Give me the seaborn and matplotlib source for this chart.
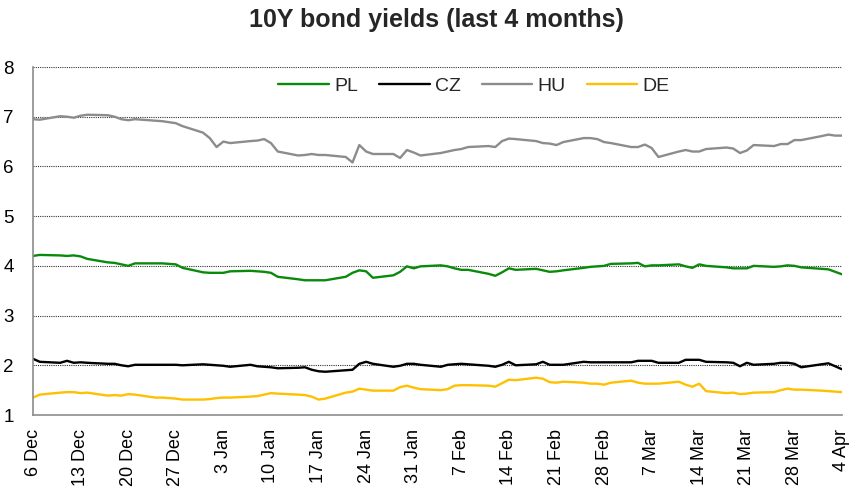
import matplotlib
matplotlib.use("Agg")
import matplotlib.pyplot as plt
import seaborn as sns
import pandas as pd

# ---- data (business days 6 Dec 2012 - 4 Apr 2013) ----
dates = pd.bdate_range("2012-12-06", "2013-04-04")

pl = [4.20, 4.22, 4.21, 4.20, 4.21, 4.19, 4.14, 4.07, 4.06, 4.03,
      4.00, 4.05, 4.05, 4.05, 4.04, 4.03, 3.96, 3.87, 3.86, 3.86,
      3.86, 3.89, 3.90, 3.89, 3.88, 3.86, 3.78, 3.73, 3.71, 3.71,
      3.71, 3.71, 3.78, 3.86, 3.91, 3.89, 3.76, 3.81, 3.88, 3.99,
      3.95, 3.99, 4.01, 3.99, 3.95, 3.92, 3.92, 3.84, 3.80, 3.87,
      3.95, 3.92, 3.94, 3.91, 3.88, 3.89, 3.91, 3.96, 3.98, 3.99,
      4.00, 4.04, 4.05, 4.06, 3.99, 4.01, 4.01, 4.03, 3.99, 3.96,
      4.03, 4.00, 3.97, 3.95, 3.95, 3.95, 4.00, 3.98, 3.99, 4.01,
      4.00, 3.97, 3.94, 3.93, 3.88, 3.83]

cz = [2.13, 2.07, 2.05, 2.09, 2.05, 2.06, 2.05, 2.03, 2.03, 2.00,
      1.98, 2.01, 2.01, 2.01, 2.01, 2.01, 2.00, 2.02, 2.01, 2.00,
      1.99, 1.97, 2.01, 1.98, 1.97, 1.96, 1.94, 1.95, 1.96, 1.91,
      1.88, 1.87, 1.90, 1.91, 2.03, 2.07, 2.03, 1.97, 1.99, 2.03,
      2.03, 2.01, 1.97, 2.01, 2.02, 2.03, 2.02, 1.99, 1.97, 2.01,
      2.07, 2.00, 2.02, 2.07, 2.01, 2.01, 2.01, 2.07, 2.06, 2.06,
      2.06, 2.06, 2.06, 2.09, 2.09, 2.09, 2.05, 2.05, 2.11, 2.11,
      2.11, 2.07, 2.06, 2.05, 1.98, 2.05, 2.01, 2.03, 2.05, 2.05,
      2.03, 1.96, 2.02, 2.04, 1.98, 1.92]

hu = [6.95, 6.94, 7.01, 7.00, 6.98, 7.02, 7.04, 7.03, 7.00, 6.95,
      6.93, 6.95, 6.92, 6.91, 6.89, 6.87, 6.81, 6.68, 6.57, 6.39,
      6.50, 6.47, 6.51, 6.52, 6.55, 6.47, 6.30, 6.22, 6.23, 6.25,
      6.23, 6.23, 6.19, 6.08, 6.43, 6.30, 6.25, 6.25, 6.17, 6.33,
      6.28, 6.22, 6.27, 6.30, 6.33, 6.35, 6.39, 6.41, 6.39, 6.51,
      6.56, 6.55, 6.51, 6.47, 6.46, 6.43, 6.49, 6.57, 6.57, 6.55,
      6.49, 6.47, 6.39, 6.39, 6.44, 6.37, 6.19, 6.30, 6.33, 6.30,
      6.30, 6.35, 6.38, 6.36, 6.27, 6.32, 6.43, 6.41, 6.45, 6.45,
      6.53, 6.53, 6.61, 6.64, 6.62, 6.62]

de = [1.35, 1.41, 1.45, 1.46, 1.46, 1.44, 1.45, 1.39, 1.40, 1.39,
      1.42, 1.41, 1.35, 1.35, 1.34, 1.33, 1.31, 1.31, 1.32, 1.34,
      1.35, 1.35, 1.37, 1.38, 1.41, 1.44, 1.43, 1.41, 1.40, 1.37,
      1.31, 1.33, 1.45, 1.47, 1.53, 1.51, 1.49, 1.49, 1.56, 1.59,
      1.55, 1.52, 1.50, 1.52, 1.59, 1.60, 1.60, 1.59, 1.57, 1.64,
      1.71, 1.70, 1.75, 1.73, 1.66, 1.65, 1.67, 1.65, 1.63, 1.63,
      1.61, 1.65, 1.69, 1.65, 1.63, 1.63, 1.63, 1.67, 1.61, 1.57,
      1.63, 1.48, 1.44, 1.45, 1.42, 1.43, 1.45, 1.46, 1.50, 1.53,
      1.51, 1.51, 1.49, 1.48, 1.47, 1.46]

series_names = ["PL", "CZ", "HU", "DE"]
series_colors = ["#0A8A0A", "#000000", "#8C8C8C", "#FFC000"]

tick_dates = pd.date_range("2012-12-06", "2013-04-04", freq="7D")
tick_labels = ["6 Dec", "13 Dec", "20 Dec", "27 Dec", "3 Jan", "10 Jan",
               "17 Jan", "24 Jan", "31 Jan", "7 Feb", "14 Feb", "21 Feb",
               "28 Feb", "7 Mar", "14 Mar", "21 Mar", "28 Mar", "4 Apr"]
y_ticks = [1, 2, 3, 4, 5, 6, 7, 8]

df = pd.DataFrame({"date": dates, "PL": pl, "CZ": cz, "HU": hu, "DE": de})
long = df.melt(id_vars="date", var_name="series", value_name="yield")

# ---- plot ----
sns.set_theme(style="white")
plt.rcParams["font.family"] = ["Liberation Sans", "DejaVu Sans"]

fig = plt.figure(figsize=(8.56, 4.98), dpi=100)
ax = fig.add_axes([33 / 856, 1 - 415 / 498, (842 - 33) / 856, (415 - 67) / 498])

sns.lineplot(data=long, x="date", y="yield", hue="series",
             hue_order=series_names, palette=series_colors,
             linewidth=1.7, ax=ax)

ax.set_xlim(tick_dates[0], tick_dates[-1])
ax.set_ylim(1, 8)
ax.set_yticks(y_ticks)
ax.set_yticklabels([str(v) for v in y_ticks], fontsize=13.5)
ax.set_xticks(tick_dates)
ax.set_xticklabels(tick_labels, rotation=90, fontsize=13)
ax.set_xlabel("")
ax.set_ylabel("")

for y in y_ticks[1:]:
    ax.axhline(y, color="#333333", linestyle=(0, (1, 1)), linewidth=0.8, zorder=0)

for s in ["top", "right"]:
    ax.spines[s].set_visible(False)
for s in ["left", "bottom"]:
    ax.spines[s].set_color("#8C8C8C")
    ax.spines[s].set_linewidth(1.2)

ax.tick_params(axis="both", which="major", direction="out", length=5,
               width=1.0, color="#8C8C8C", labelcolor="black")
ax.tick_params(axis="x", pad=5)
ax.tick_params(axis="y", pad=9)

leg = ax.legend(loc="center", bbox_to_anchor=(0.545, 0.945), ncol=4,
                frameon=False, fontsize=14, handlelength=2.6,
                handletextpad=0.25, columnspacing=1.1)
for line in leg.get_lines():
    line.set_linewidth(1.7)

fig.text(436 / 856, 1 - 20 / 498, "10Y bond yields (last 4 months)",
         ha="center", va="center", fontsize=18, fontweight="bold")

fig.savefig("out.png", dpi=100)
